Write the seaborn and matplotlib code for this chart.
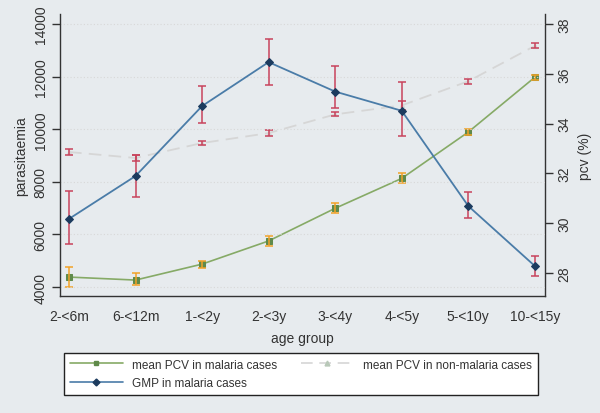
import numpy as np
import matplotlib.pyplot as plt
import seaborn as sns
import pandas as pd
from matplotlib.lines import Line2D

# data
age_groups = ["2-<6m", "6-<12m", "1-<2y", "2-<3y", "3-<4y", "4-<5y", "5-<10y", "10-<15y"]

gmp = [6590, 8220, 10880, 12550, 11430, 10700, 7080, 4800]
gmp_lo = [5640, 7420, 10230, 11680, 10800, 9730, 6620, 4420]
gmp_hi = [7650, 9020, 11640, 13430, 12390, 11780, 7610, 5180]

pcv_mal = [27.84, 27.72, 28.36, 29.29, 30.60, 31.80, 33.66, 35.86]
pcv_mal_lo = [27.44, 27.52, 28.20, 29.08, 30.40, 31.60, 33.55, 35.76]
pcv_mal_hi = [28.24, 28.00, 28.48, 29.48, 30.80, 32.00, 33.78, 35.96]

pcv_non = [32.86, 32.62, 33.22, 33.62, 34.37, 34.73, 35.70, 37.12]
pcv_non_lo = [32.74, 32.49, 33.15, 33.50, 34.29, 34.54, 35.60, 37.02]
pcv_non_hi = [32.98, 32.75, 33.29, 33.74, 34.45, 34.92, 35.80, 37.22]

sns.set_style("white")
plt.rcParams['font.family'] = ['Liberation Sans', 'DejaVu Sans']

bg = "#e7ebee"
red = "#c8435c"
orange = "#f2a227"
blue = "#4a7ca8"
navy = "#1c3b5e"
green = "#86aa66"
sq = "#5f8a4a"
grey = "#d6d6d6"

x = np.arange(len(age_groups))
df = pd.DataFrame({"x": x, "gmp": gmp, "pcv_mal": pcv_mal, "pcv_non": pcv_non})

fig = plt.figure(figsize=(6, 4.14), dpi=100, facecolor=bg)
ax = fig.add_axes([0.1, 0.2826, 0.808, 0.6812])
ax2 = ax.twinx()
ax.set_zorder(ax2.get_zorder() + 1)
ax.patch.set_visible(False)
ax2.patch.set_facecolor("white")

# grid on the left scale
for v in range(4000, 14001, 2000):
    ax.axhline(v, color="#d8d8d8", lw=0.8, ls=(0, (1, 2)), zorder=0)

# right axis: pcv series
sns.lineplot(data=df, x="x", y="pcv_non", ax=ax2, color=grey, lw=1.3,
             marker="^", markersize=3, markeredgecolor=grey, zorder=2)
ax2.lines[-1].set_dashes((7, 4))
ax2.errorbar(x, pcv_non, yerr=[np.subtract(pcv_non, pcv_non_lo), np.subtract(pcv_non_hi, pcv_non)],
             fmt="none", ecolor=red, elinewidth=1.1, capsize=3.2, capthick=1.1, zorder=3)

sns.lineplot(data=df, x="x", y="pcv_mal", ax=ax2, color=green, lw=1.2,
             marker="s", markersize=4, markerfacecolor=sq, markeredgecolor=sq, zorder=4)
ax2.errorbar(x, pcv_mal, yerr=[np.subtract(pcv_mal, pcv_mal_lo), np.subtract(pcv_mal_hi, pcv_mal)],
             fmt="none", ecolor=orange, elinewidth=1.1, capsize=3.2, capthick=1.1, zorder=5)

# left axis: GMP
sns.lineplot(data=df, x="x", y="gmp", ax=ax, color=blue, lw=1.3,
             marker="D", markersize=4.3, markerfacecolor=navy, markeredgecolor=navy, zorder=4)
ax.errorbar(x, gmp, yerr=[np.subtract(gmp, gmp_lo), np.subtract(gmp_hi, gmp)],
            fmt="none", ecolor=red, elinewidth=1.1, capsize=3.2, capthick=1.1, zorder=3)

ax.set_xlim(-0.135, 7.15)
ax.set_ylim(3658, 14380)
ax2.set_ylim(27.08, 38.40)

ax.set_xticks(x)
ax.set_xticklabels(age_groups)
ax.set_yticks(range(4000, 14001, 2000))
ax.set_yticklabels([str(v) for v in range(4000, 14001, 2000)], rotation=90, va="center")
ax2.set_yticks(range(28, 39, 2))
ax2.set_yticklabels([str(v) for v in range(28, 39, 2)], rotation=90, va="center")

for a in (ax, ax2):
    a.tick_params(axis="both", direction="out", length=6, width=1, color="#333333",
                  labelsize=10, labelcolor="#333333", pad=3)
    a.spines["top"].set_visible(False)
    for s in ("left", "right", "bottom"):
        a.spines[s].set_color("#333333")
        a.spines[s].set_linewidth(1.0)
ax.spines["right"].set_visible(False)
ax2.spines["left"].set_visible(False)
ax2.spines["bottom"].set_visible(False)

ax.set_xlabel("age group", fontsize=10, color="#333333", labelpad=6)
ax.set_ylabel("parasitaemia", fontsize=10, color="#333333", labelpad=4)
ax2.set_ylabel("pcv (%)", fontsize=10, color="#333333", labelpad=5)

# legend below the plot
h_mal = Line2D([], [], color=green, lw=1.2, marker="s", markersize=3.5,
               markerfacecolor=sq, markeredgecolor=sq)
h_gmp = Line2D([], [], color=blue, lw=1.2, marker="D", markersize=3.5,
               markerfacecolor=navy, markeredgecolor=navy)
h_non = Line2D([], [], color=grey, lw=1.2, marker="^", markersize=3.5, dashes=(7, 4),
               markerfacecolor="#b8c8b8", markeredgecolor="#b8c8b8")
leg = fig.legend([h_mal, h_gmp, h_non],
                 ["mean PCV in malaria cases", "GMP in malaria cases", "mean PCV in non-malaria cases"],
                 loc="lower left", bbox_to_anchor=(64 / 600, 1 - 396 / 414, 474 / 600, 44 / 414),
                 mode="expand", ncol=2, fontsize=8.5, handlelength=4.5, handletextpad=0.8,
                 borderaxespad=0, labelspacing=0.55, fancybox=False, framealpha=1,
                 edgecolor="#222222", facecolor="white", borderpad=0.5)
leg.get_frame().set_linewidth(1.0)
for t in leg.get_texts():
    t.set_color("#333333")

fig.savefig("out.png", dpi=100, facecolor=bg)
